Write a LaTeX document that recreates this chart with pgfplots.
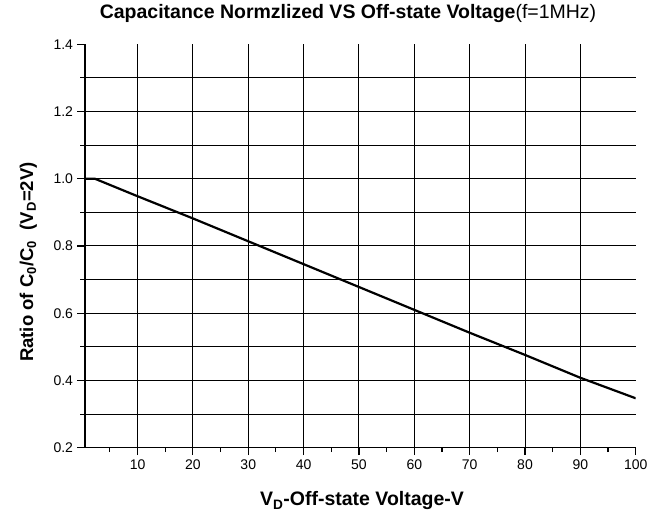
\documentclass[border=0pt]{standalone}
\usepackage{fontspec}
\setmainfont{Liberation Sans}
\usepackage{pgfplots}
\pgfplotsset{compat=1.18}
\begin{document}
\begin{tikzpicture}
\begin{axis}[
  scale only axis,
  width=550.7pt, height=403.4pt,
  xmin=0.5, xmax=100, ymin=0.2, ymax=1.4,
  axis x line*=bottom, axis y line*=left,
  axis line style={line width=1.3pt, black},
  tick align=outside,
  tick style={line width=1.1pt, black},
  major tick length=7.5pt, minor tick length=4.5pt,
  xtick={10,20,30,40,50,60,70,80,90},
  minor xtick={5,15,25,35,45,55,65,75,85,95},
  extra x ticks={100},
  extra x tick style={grid=none},
  ytick={0.2,0.4,0.6,0.8,1.0,1.2},
  minor ytick={0.3,0.5,0.7,0.9,1.1,1.3},
  extra y ticks={1.4},
  extra y tick style={grid=none, yticklabel style={/pgf/number format/fixed, /pgf/number format/precision=1, /pgf/number format/fixed zerofill}},
  yticklabel style={/pgf/number format/fixed, /pgf/number format/precision=1, /pgf/number format/fixed zerofill},
  /pgf/number format/assume math mode=true,
  ticklabel style={font=\fontsize{14}{16}\selectfont},
  xticklabel style={yshift=-1pt},
  yticklabel style={xshift=-1pt},
  xmajorgrids, ymajorgrids, yminorgrids,
  major grid style={line width=1.0pt, black},
  minor grid style={line width=1.0pt, black},
  title={\textbf{Capacitance Normzlized VS Off-state Voltage}(f=1MHz)},
  title style={at={(axis description cs:0.4776,1.048)}, anchor=base, font=\fontsize{19.5}{22}\selectfont},
  xlabel={\textbf{V\textsubscript{D}-Off-state Voltage-V}},
  xlabel style={at={(axis description cs:0.503,-0.1445)}, anchor=base, font=\fontsize{19.5}{22}\selectfont},
  ylabel={\textbf{Ratio of C\textsubscript{0}/C\textsubscript{0}\ \ (V\textsubscript{D}=2V)}},
  ylabel style={at={(axis description cs:-0.0944,0.46)}, anchor=base, font=\fontsize{18.5}{21}\selectfont},
]
\addplot[black, line width=2.2pt, mark=none] coordinates {
  (0.5,1.0) (2.3,1.0) (10,0.948) (20,0.882) (30,0.814) (40,0.746) (50,0.678)
  (60,0.610) (70,0.542) (80,0.476) (90,0.408) (100,0.347)
};
\end{axis}
\pgfresetboundingbox
\useasboundingbox (-85pt,-65.3pt) rectangle (577pt,447.7pt);
\end{tikzpicture}
\end{document}
